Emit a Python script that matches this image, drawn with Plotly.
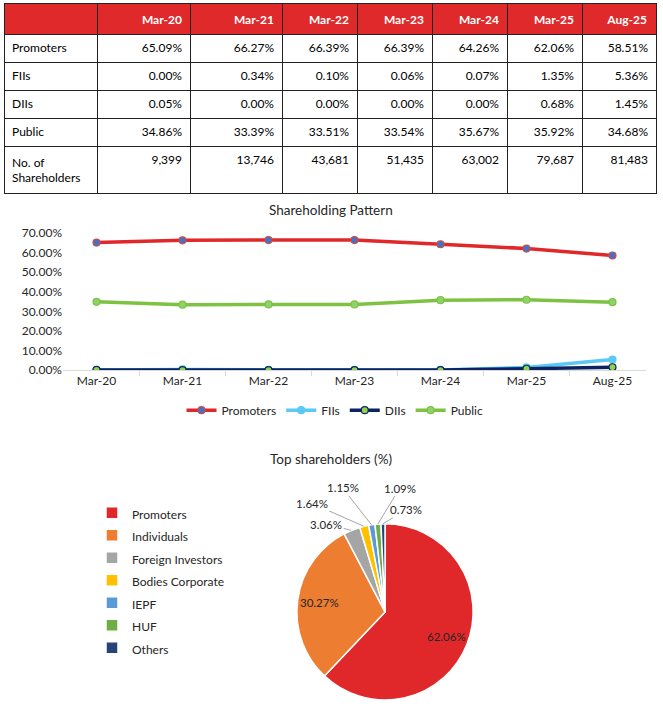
import math
import plotly.graph_objects as go

# ---------------- data ----------------
periods = ["Mar-20", "Mar-21", "Mar-22", "Mar-23", "Mar-24", "Mar-25", "Aug-25"]
promoters = [65.09, 66.27, 66.39, 66.39, 64.26, 62.06, 58.51]
fiis = [0.00, 0.34, 0.10, 0.06, 0.07, 1.35, 5.36]
diis = [0.05, 0.00, 0.00, 0.00, 0.00, 0.68, 1.45]
public = [34.86, 33.39, 33.51, 33.54, 35.67, 35.92, 34.68]
shareholders = [9399, 13746, 43681, 51435, 63002, 79687, 81483]

pie_labels = ["Promoters", "Individuals", "Foreign Investors", "Bodies Corporate", "IEPF", "HUF", "Others"]
pie_values = [62.06, 30.27, 3.06, 1.64, 1.15, 1.09, 0.73]

# ---------------- styling ----------------
W = 663
OFF = 9            # plotly tables render ~9px below their domain top; page is shifted up by this
H = 708 + OFF
FONT = "Lato"
RED = "#E0292A"
series_styles = {
    "Promoters": dict(line="#E0282A", marker="#4472C4", outline="#C0504D"),
    "FIIs": dict(line="#5BC8F5", marker="#5BC8F5", outline="#5BC8F5"),
    "DIIs": dict(line="#0B2461", marker="#92D050", outline="#0B2461"),
    "Public": dict(line="#7DC242", marker="#8FD16A", outline="#7DC242"),
}
pie_colors = ["#E0282A", "#ED7D31", "#A5A5A5", "#FFC000", "#5B9BD5", "#70AD47", "#264478"]


def px_x(p):
    return p / W


def px_y(p):
    # window pixel -> paper fraction (page shifted up by OFF)
    return 1 - (p + OFF) / H


def px_y_table(p):
    return 1 - p / H


fig = go.Figure()

# ---------------- table ----------------
def pct(v):
    return f"{v:.2f}%"

row_names = ["Promoters", "FIIs", "DIIs", "Public", "No. of<br>Shareholders"]
columns = [row_names]
for i in range(len(periods)):
    columns.append([pct(promoters[i]), pct(fiis[i]), pct(diis[i]), pct(public[i]), f"{shareholders[i]:,}"])

fig.add_trace(go.Table(
    domain=dict(x=[px_x(4), px_x(656)], y=[px_y_table(200), px_y_table(5)]),
    columnwidth=[93, 93, 92, 75, 75, 75, 75, 74],
    header=dict(
        values=[""] + [f"<b>{p}</b>" for p in periods],
        fill_color=RED,
        line=dict(color="#222222", width=1),
        font=dict(family=FONT, size=12, color="white"),
        align=["left"] + ["right"] * 7,
        height=28,
    ),
    cells=dict(
        values=columns,
        fill_color="white",
        line=dict(color="#222222", width=1),
        font=dict(family=FONT, size=12, color="black"),
        align=["left"] + ["right"] * 7,
        height=28,
    ),
))

# ---------------- line chart ----------------
series = [("Promoters", promoters), ("FIIs", fiis), ("DIIs", diis), ("Public", public)]
for name, vals in series:
    st = series_styles[name]
    fig.add_trace(go.Scatter(
        x=periods, y=[v / 100 for v in vals], name=name, mode="lines+markers",
        line=dict(color=st["line"], width=3.5),
        marker=dict(color=st["marker"], size=7, line=dict(color=st["outline"], width=1.2)),
        xaxis="x", yaxis="y", legend="legend",
    ))

fig.update_layout(
    xaxis=dict(
        domain=[px_x(63), px_x(646)], anchor="y", type="category",
        showline=True, linecolor="#D9D9D9", linewidth=1,
        ticks="outside", tickson="boundaries", ticklen=5, tickcolor="#D9D9D9",
        showgrid=False, zeroline=False,
        tickfont=dict(family=FONT, size=12, color="#262626"),
    ),
    yaxis=dict(
        domain=[px_y(370), px_y(230)], anchor="x", range=[0, 0.7], dtick=0.1,
        tickformat=".2%", showgrid=False, zeroline=False, showline=False,
        tickfont=dict(family=FONT, size=12, color="#262626"),
    ),
)

# ---------------- pie chart ----------------
cx, cy, r = 385, 617, 90
fig.add_trace(go.Pie(
    labels=[f'<span style="font-size:12px">{l}</span>' for l in pie_labels],
    values=pie_values, sort=False, direction="clockwise", rotation=0,
    marker=dict(colors=pie_colors, line=dict(color="white", width=1.5)),
    textinfo="none", hoverinfo="label+percent",
    domain=dict(x=[px_x(cx - r), px_x(cx + r)], y=[px_y(cy + r), px_y(cy - r)]),
    legend="legend2",
))

annotations = [
    dict(text="Shareholding Pattern", x=px_x(331), y=px_y(206), xref="paper", yref="paper",
         xanchor="center", yanchor="middle",
         showarrow=False, font=dict(family=FONT, size=13.5, color="#262626")),
    dict(text="Top shareholders (%)", x=px_x(331), y=px_y(461), xref="paper", yref="paper",
         xanchor="center", yanchor="middle",
         showarrow=False, font=dict(family=FONT, size=13.5, color="#262626")),
]

# label placement offsets (pixels) for the pie labels
label_offsets = {
    "Foreign Investors": (-25, -6),
    "Bodies Corporate": (-52, -23),
    "IEPF": (-29, -37),
    "HUF": (22, -36),
    "Others": (23, -14),
}
total = sum(pie_values)
cum = 0.0
for lab, v in zip(pie_labels, pie_values):
    mid = (cum + v / 2) / total * 2 * math.pi
    cum += v
    txt = f"{v:.2f}%"
    if lab in label_offsets:
        ex = cx + r * math.sin(mid)
        ey = cy - r * math.cos(mid)
        ax, ay = label_offsets[lab]
        annotations.append(dict(
            text=txt, x=px_x(ex), y=px_y(ey), xref="paper", yref="paper",
            showarrow=True, arrowhead=0, arrowwidth=1, arrowcolor="#A6A6A6",
            ax=ax, ay=ay, font=dict(family=FONT, size=11.5, color="#262626"),
        ))
    else:
        rr = 0.74 * r
        annotations.append(dict(
            text=txt, x=px_x(cx + rr * math.sin(mid)), y=px_y(cy - rr * math.cos(mid)),
            xref="paper", yref="paper", showarrow=False,
            xanchor="center", yanchor="middle",
            font=dict(family=FONT, size=11.5, color="#262626"),
        ))

fig.update_layout(
    width=W, height=H,
    margin=dict(l=0, r=0, t=0, b=0),
    paper_bgcolor="white", plot_bgcolor="white",
    font=dict(family=FONT, size=12, color="#262626"),
    annotations=annotations,
    legend=dict(
        orientation="h", x=px_x(335), xanchor="center", y=px_y(411), yanchor="middle",
        font=dict(family=FONT, size=12, color="#262626"), bgcolor="rgba(0,0,0,0)",
    ),
    legend2=dict(
        orientation="v", x=px_x(92), xanchor="left", y=px_y(585), yanchor="middle",
        font=dict(family=FONT, size=15, color="#262626"), bgcolor="rgba(0,0,0,0)",
    ),
)

fig.write_html(
    "out.html",
    config={"displayModeBar": False},
    post_script=(
        "document.body.style.margin='0';"
        "document.body.style.marginTop='-%dpx';"
        "document.body.style.overflow='hidden';" % OFF
    ),
)
